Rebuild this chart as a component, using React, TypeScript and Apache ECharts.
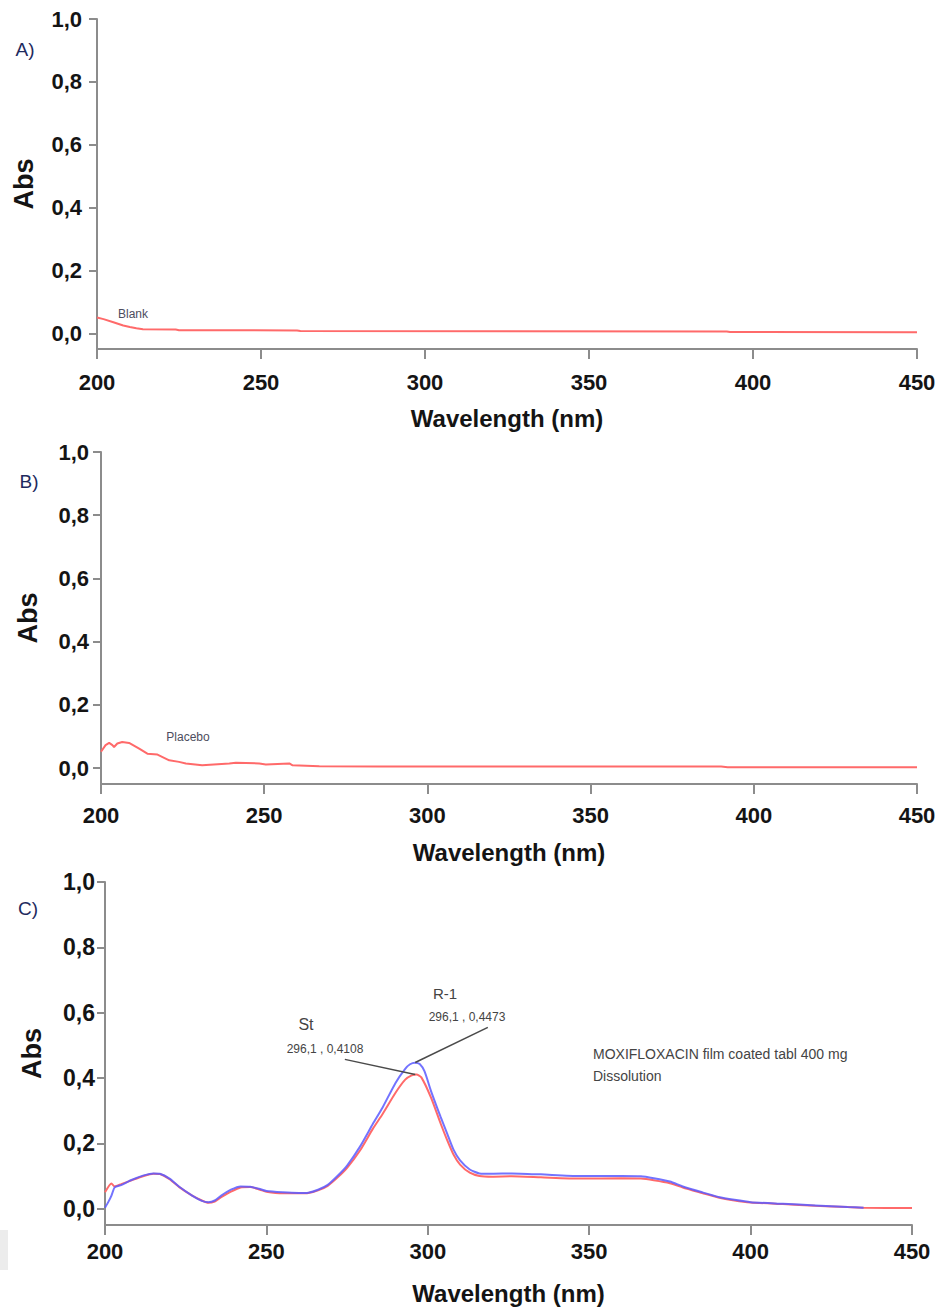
import React, { useEffect, useRef } from "react";
import * as echarts from "echarts";

// ---------- DATA ----------
const xTicks = [200, 250, 300, 350, 400, 450];
const yTicks = [0, 0.2, 0.4, 0.6, 0.8, 1.0];

// A) Blank
const blankNm = [200, 202, 205, 208, 210, 212, 214, 224, 225, 261, 262, 392, 393, 450];
const blankAbs = [0.05, 0.045, 0.035, 0.025, 0.02, 0.016, 0.013, 0.012, 0.01, 0.009, 0.007, 0.006, 0.004, 0.003];

// B) Placebo
const placeboNm = [200, 201.4, 202.5, 203.5, 204, 205, 206.5, 208.6, 211.7, 214.2, 217.3, 220.9, 223.9, 226, 231, 239.3, 241.3, 248.5, 250.5, 257.7, 258.7, 266.9, 285, 390, 392, 450];
const placeboAbs = [0.052, 0.073, 0.08, 0.073, 0.067, 0.078, 0.083, 0.08, 0.062, 0.046, 0.043, 0.025, 0.02, 0.015, 0.009, 0.015, 0.017, 0.015, 0.012, 0.015, 0.009, 0.006, 0.005, 0.005, 0.003, 0.003];

// C) Standard (St, red) and sample (R-1, blue)
const stNm = [200, 202, 203, 205, 208, 212, 215, 217, 220, 223, 227, 230, 232, 234, 236, 239, 242, 245, 248, 250, 255, 260, 263, 266, 269, 272, 275, 279, 283, 286, 290, 293, 295, 296.5, 298, 301, 304, 306, 308, 310, 313, 316, 320, 326, 335, 347, 360, 366, 370, 375, 379, 385, 390, 395, 400, 410, 420, 430, 435, 450];
const stAbs = [0.05, 0.077, 0.068, 0.075, 0.086, 0.1, 0.107, 0.106, 0.09, 0.066, 0.04, 0.025, 0.018, 0.022, 0.035, 0.052, 0.065, 0.066, 0.058, 0.052, 0.047, 0.047, 0.048, 0.056, 0.07, 0.095, 0.125, 0.178, 0.245, 0.29, 0.355, 0.395, 0.408, 0.411, 0.402, 0.34, 0.26, 0.21, 0.165, 0.135, 0.11, 0.1, 0.098, 0.099, 0.096, 0.092, 0.093, 0.092, 0.087, 0.078, 0.065, 0.048, 0.034, 0.025, 0.019, 0.014, 0.009, 0.005, 0.003, 0.002];
const r1Nm = [200, 201, 202, 203, 205, 208, 212, 215, 217, 220, 223, 227, 230, 232, 234, 236, 239, 242, 245, 248, 250, 255, 260, 263, 266, 269, 272, 275, 279, 283, 286, 290, 293, 294.5, 296, 297.5, 299, 301, 304, 306, 308, 310, 313, 316, 320, 326, 335, 347, 360, 366, 370, 375, 379, 385, 390, 395, 400, 410, 420, 430, 435];
const r1Abs = [0.003, 0.02, 0.04, 0.065, 0.072, 0.087, 0.102, 0.108, 0.107, 0.092, 0.067, 0.04, 0.024, 0.02, 0.025, 0.04, 0.058, 0.068, 0.067, 0.06, 0.054, 0.05, 0.048, 0.049, 0.058, 0.073, 0.1, 0.132, 0.19, 0.26, 0.31, 0.385, 0.428, 0.442, 0.447, 0.443, 0.42, 0.36, 0.28, 0.23, 0.18, 0.148, 0.12, 0.108, 0.107, 0.108, 0.105, 0.1, 0.1, 0.099, 0.093, 0.083, 0.068, 0.05, 0.036, 0.027, 0.02, 0.015, 0.01, 0.005, 0.003];

// Peak annotations (nm, Abs) and leader-line ends
const stPeak = [296.1, 0.4108];
const stLeaderEnd = [274.3, 0.457];
const r1Peak = [296.1, 0.4473];
const r1LeaderEnd = [318.6, 0.555];

const zip = (xs: number[], ys: number[]) => xs.map((x, i) => [x, ys[i]]);

const FONT = '"Liberation Sans", Arial, sans-serif';
const AXIS_GRAY = "#8c8c8c";
const RED = "#ff6a6a";
const BLUE = "#5a5aff";

function makeX(gridIndex: number, labelMargin: number, nameGap: number) {
  return {
    type: "value",
    gridIndex,
    min: 200,
    max: 450,
    interval: 50,
    axisLine: { show: true, onZero: false, lineStyle: { color: AXIS_GRAY, width: 2 } },
    axisTick: { show: true, inside: false, length: 10, lineStyle: { color: AXIS_GRAY, width: 2 } },
    axisLabel: {
      show: true,
      margin: labelMargin,
      fontFamily: FONT,
      fontSize: 22,
      fontWeight: "bold",
      color: "#141414",
      showMinLabel: true,
      showMaxLabel: true,
    },
    splitLine: { show: false },
    name: "Wavelength (nm)",
    nameLocation: "middle",
    nameGap,
    nameTextStyle: { fontFamily: FONT, fontSize: 24, fontWeight: "bold", color: "#141414" },
  };
}

function makeY(gridIndex: number, labelMargin: number, labelSize: number, nameGap: number) {
  return {
    type: "value",
    gridIndex,
    min: -0.05,
    max: 1.0,
    axisLine: { show: true, onZero: false, lineStyle: { color: AXIS_GRAY, width: 2 } },
    axisTick: { show: true, inside: false, length: 8, customValues: yTicks, lineStyle: { color: AXIS_GRAY, width: 2 } },
    axisLabel: {
      show: true,
      customValues: yTicks,
      margin: labelMargin,
      fontFamily: FONT,
      fontSize: labelSize,
      fontWeight: "bold",
      color: "#141414",
      formatter: (v: number) => v.toFixed(1).replace(".", ","),
    },
    splitLine: { show: false },
    name: "Abs",
    nameLocation: "middle",
    nameRotate: 90,
    nameGap,
    nameTextStyle: { fontFamily: FONT, fontSize: 27, fontWeight: "bold", color: "#141414" },
  };
}

function txt(x: number, y: number, text: string, size: number, color: string, align = "center") {
  return {
    type: "text",
    x,
    y,
    silent: true,
    style: { text, fontFamily: FONT, fontSize: size, fill: color, align, verticalAlign: "middle" },
  };
}

export default function App() {
  const ref = useRef<HTMLDivElement>(null);

  useEffect(() => {
    document.body.style.margin = "0";
    if (!ref.current) return;
    const chart = echarts.init(ref.current, null, { renderer: "svg" });

    const option = {
      animation: false,
      backgroundColor: "#ffffff",
      grid: [
        { left: 97, right: 23, top: 19, height: 330 },
        { left: 101, right: 23, top: 452, height: 332 },
        { left: 105, right: 28, top: 882, height: 343 },
      ],
      xAxis: [makeX(0, 22, 57), makeX(1, 20, 56), makeX(2, 15, 56)],
      yAxis: [makeY(0, 15, 22, 60), makeY(1, 12, 22, 60), makeY(2, 10, 23, 60)],
      series: [
        {
          type: "line",
          xAxisIndex: 0,
          yAxisIndex: 0,
          data: zip(blankNm, blankAbs),
          showSymbol: false,
          lineStyle: { color: RED, width: 2 },
        },
        {
          type: "line",
          xAxisIndex: 1,
          yAxisIndex: 1,
          data: zip(placeboNm, placeboAbs),
          showSymbol: false,
          lineStyle: { color: RED, width: 2 },
        },
        {
          type: "line",
          xAxisIndex: 2,
          yAxisIndex: 2,
          data: zip(stNm, stAbs),
          showSymbol: false,
          smooth: 0.2,
          lineStyle: { color: RED, width: 2 },
          markLine: {
            silent: true,
            symbol: "none",
            label: { show: false },
            lineStyle: { color: "#4a4a4a", width: 1.5, type: "solid" },
            data: [[{ coord: stPeak }, { coord: stLeaderEnd }]],
          },
        },
        {
          type: "line",
          xAxisIndex: 2,
          yAxisIndex: 2,
          data: zip(r1Nm, r1Abs),
          showSymbol: false,
          smooth: 0.2,
          lineStyle: { color: BLUE, width: 2, opacity: 0.85 },
          markLine: {
            silent: true,
            symbol: "none",
            label: { show: false },
            lineStyle: { color: "#4a4a4a", width: 1.5, type: "solid" },
            data: [[{ coord: r1Peak }, { coord: r1LeaderEnd }]],
          },
        },
      ],
      graphic: [
        txt(25, 49, "A)", 19, "#1e2a5e"),
        txt(29, 481, "B)", 19, "#1e2a5e"),
        txt(28, 908, "C)", 19, "#1e2a5e"),
        txt(133, 314, "Blank", 12, "#4d4d5e"),
        txt(188, 737, "Placebo", 12, "#4d4d5e"),
        txt(306, 1024, "St", 16, "#444444"),
        txt(325, 1049, "296,1 , 0,4108", 12, "#444444"),
        txt(445, 993, "R-1", 15, "#444444"),
        txt(467, 1017, "296,1 , 0,4473", 12, "#444444"),
        txt(593, 1054, "MOXIFLOXACIN film coated tabl 400 mg", 14, "#444444", "left"),
        txt(593, 1076, "Dissolution", 14, "#444444", "left"),
        {
          type: "rect",
          silent: true,
          shape: { x: 0, y: 1230, width: 8, height: 40 },
          style: { fill: "#ececec" },
        },
      ],
    };

    chart.setOption(option as any);
    return () => chart.dispose();
  }, []);

  return (
    <div
      ref={ref}
      style={{ position: "absolute", left: 0, top: 0, width: 940, height: 1314, background: "#fff" }}
    />
  );
}
